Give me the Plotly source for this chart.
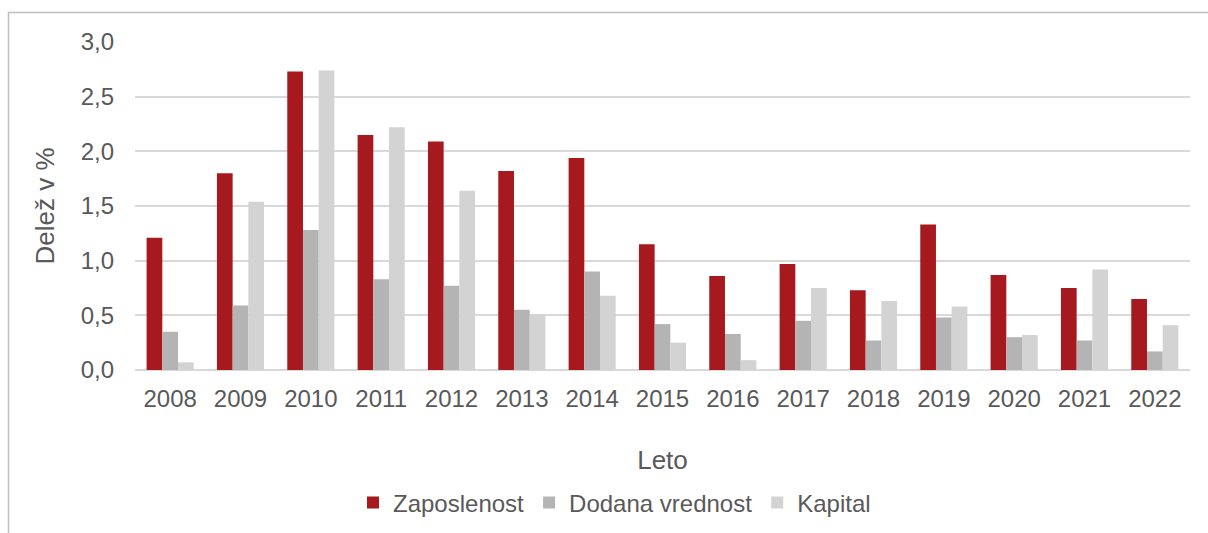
import plotly.graph_objects as go

years = ["2008", "2009", "2010", "2011", "2012", "2013", "2014", "2015",
         "2016", "2017", "2018", "2019", "2020", "2021", "2022"]
zaposlenost = [1.21, 1.80, 2.73, 2.15, 2.09, 1.82, 1.94, 1.15, 0.86, 0.97, 0.73, 1.33, 0.87, 0.75, 0.65]
dodana_vrednost = [0.35, 0.59, 1.28, 0.83, 0.77, 0.55, 0.90, 0.42, 0.33, 0.45, 0.27, 0.48, 0.30, 0.27, 0.17]
kapital = [0.07, 1.54, 2.74, 2.22, 1.64, 0.51, 0.68, 0.25, 0.09, 0.75, 0.63, 0.58, 0.32, 0.92, 0.41]

series_names = ["Zaposlenost", "Dodana vrednost", "Kapital"]
series_colors = ["#A61A1F", "#B4B4B4", "#D3D3D3"]
y_ticks = [0.0, 0.5, 1.0, 1.5, 2.0, 2.5, 3.0]

text_color = "#595959"
font_family = "Liberation Sans, Arial, sans-serif"

fig = go.Figure()
for name, vals, col in zip(series_names, [zaposlenost, dodana_vrednost, kapital], series_colors):
    fig.add_trace(go.Bar(x=years, y=vals, name=name, marker=dict(color=col, line=dict(width=0))))

# body margin is removed below, so figure coords = page coords
FW, FH = 1208, 533
# target plot area on page: x 135..1190, y 42..370
L, T = 135, 42
R = FW - 1190
B = FH - 370
W, H = FW - L - R, FH - T - B

def px(x_page):
    return (x_page - L) / W

def py(y_page):
    return (FH - B - y_page) / H

fig.update_layout(
    width=FW, height=FH,
    margin=dict(l=L, r=R, t=T, b=B, autoexpand=False),
    paper_bgcolor="white", plot_bgcolor="white",
    separators=", ",
    barmode="group", bargap=0.33, bargroupgap=0,
    font=dict(family=font_family, color=text_color, size=24),
    showlegend=True,
    legend=dict(orientation="h", x=px(353), xanchor="left", y=py(503), yanchor="middle",
                font=dict(size=24, color=text_color), itemwidth=30, traceorder="normal",
                bgcolor="rgba(0,0,0,0)"),
    xaxis=dict(type="category", showgrid=False, zeroline=False, showline=False,
               ticks="", tickfont=dict(size=24, color=text_color), ticklabelstandoff=12,
               title=dict(text="Leto", font=dict(size=26, color=text_color), standoff=39)),
    yaxis=dict(range=[0, 3.0], tickvals=y_ticks, tickformat=".1f",
               showgrid=True, gridcolor="#D9D9D9", gridwidth=1.5,
               zeroline=True, zerolinecolor="#D9D9D9", zerolinewidth=1.5,
               showline=False, ticks="", tickfont=dict(size=24, color=text_color),
               ticklabelstandoff=20,
               title=dict(text="Delež v %", font=dict(size=26, color=text_color), standoff=18)),
    shapes=[dict(type="rect", xref="paper", yref="paper",
                 x0=px(8.5), x1=px(1300), y0=py(620), y1=py(12.5),
                 line=dict(color="#BFBFBF", width=1.5), fillcolor="rgba(0,0,0,0)", layer="below")],
)

fig.write_html("out.html", config={"displayModeBar": False},
               post_script="document.body.style.margin='0';document.body.style.overflow='hidden';")
